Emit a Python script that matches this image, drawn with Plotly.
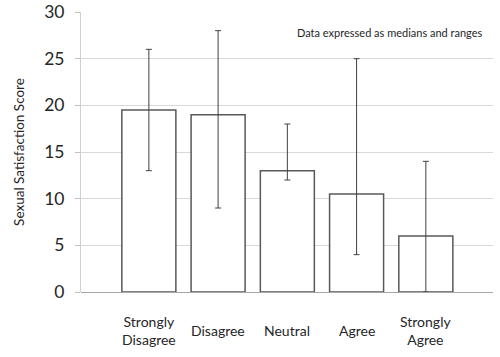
import plotly.graph_objects as go

categories = ["Strongly Disagree", "Disagree", "Neutral", "Agree", "Strongly Agree"]
category_labels = ["Strongly<br>Disagree", "Disagree", "Neutral", "Agree", "Strongly<br>Agree"]
medians = [19.5, 19, 13, 10.5, 6]
range_low = [13, 9, 12, 4, 0]
range_high = [26, 28, 18, 25, 14]
y_ticks = [0, 5, 10, 15, 20, 25, 30]

err_plus = [h - m for h, m in zip(range_high, medians)]
err_minus = [m - l for m, l in zip(medians, range_low)]

FONT = "Lato"
TXT = "#262626"

fig = go.Figure()
fig.add_trace(go.Bar(
    x=categories,
    y=medians,
    marker=dict(color="white", line=dict(color="#595959", width=1.5)),
    error_y=dict(type="data", symmetric=False, array=err_plus, arrayminus=err_minus,
                 color="#404040", thickness=1, width=3),
    showlegend=False,
))

for cat, lab in zip(categories, category_labels):
    fig.add_annotation(x=cat, y=0, xref="x", yref="y", text=lab, showarrow=False,
                       yanchor="middle", xanchor="center", yshift=-38,
                       font=dict(family=FONT, size=14, color=TXT))

fig.add_annotation(x=0.98, y=0.925, xref="paper", yref="paper",
                   text="Data expressed as medians and ranges", showarrow=False,
                   xanchor="right", yanchor="middle",
                   font=dict(family=FONT, size=11, color=TXT))

fig.update_layout(
    template="none",
    width=500, height=357,
    margin=dict(l=81, r=7, t=12, b=65, autoexpand=False),
    paper_bgcolor="white", plot_bgcolor="white",
    bargap=0.22,
    font=dict(family=FONT, color=TXT),
    xaxis=dict(type="category", categoryorder="array", categoryarray=categories,
               range=[-0.98, 4.97], showticklabels=False, showgrid=False,
               showline=False, zeroline=False, ticks="", automargin=False),
    yaxis=dict(range=[0, 30], tickvals=y_ticks, showgrid=True, gridcolor="#d9d9d9",
               gridwidth=1, zeroline=True, zerolinecolor="#a6a6a6", zerolinewidth=1,
               showline=True, linecolor="#d0d0d0", linewidth=1, automargin=False,
               ticks="outside", ticklen=5, tickcolor="#bfbfbf", ticklabelstandoff=7,
               ticklabeloverflow="allow",
               tickfont=dict(family=FONT, size=17.5, color=TXT),
               title=dict(text="Sexual Satisfaction Score", standoff=16,
                          font=dict(family=FONT, size=13.5, color=TXT))),
)

# remove the browser's default 8px body margin so the figure fills the window
fig.write_html("out.html", config={"displayModeBar": False},
               post_script="document.body.style.margin='0';")
